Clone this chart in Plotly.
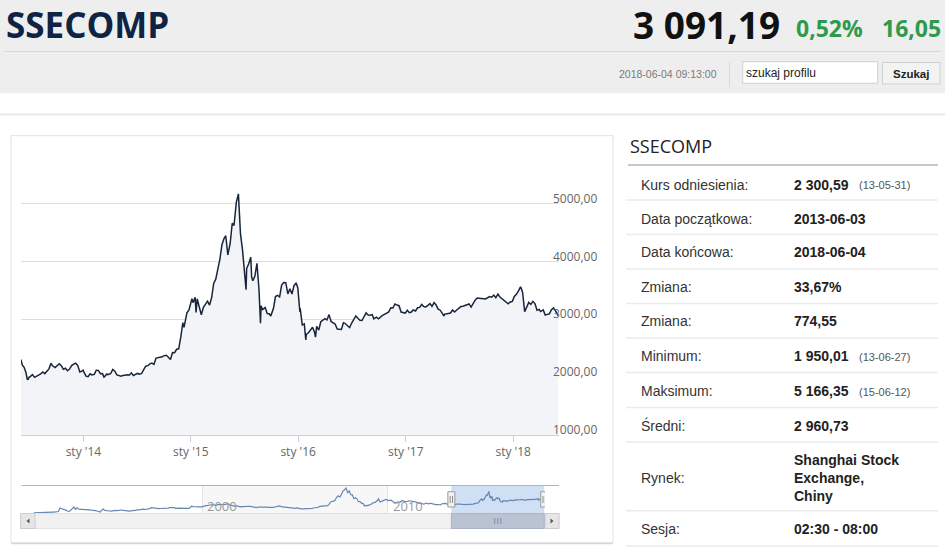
import plotly.graph_objects as go
import pandas as pd

W, H = 945, 549


def fx(x):
    return x / W


def fy(y):
    return 1 - y / H


# ---------------- data ----------------
sse_2013 = [("2013-06-03", 2300), ("2013-06-07", 2210), ("2013-06-14", 2162), ("2013-06-20", 2073),
            ("2013-06-24", 1963), ("2013-06-27", 1950), ("2013-06-28", 1979), ("2013-07-05", 2007),
            ("2013-07-12", 2040), ("2013-07-19", 1992), ("2013-07-26", 2010), ("2013-08-02", 2029),
            ("2013-08-09", 2052), ("2013-08-16", 2085), ("2013-08-23", 2057), ("2013-08-30", 2098),
            ("2013-09-06", 2139), ("2013-09-13", 2236), ("2013-09-18", 2192), ("2013-09-27", 2160),
            ("2013-09-30", 2174), ("2013-10-11", 2228), ("2013-10-18", 2193), ("2013-10-25", 2132),
            ("2013-11-01", 2149), ("2013-11-08", 2106), ("2013-11-15", 2135), ("2013-11-22", 2197),
            ("2013-11-29", 2220), ("2013-12-06", 2237), ("2013-12-13", 2197), ("2013-12-20", 2085),
            ("2013-12-27", 2101), ("2013-12-31", 2116)]
sse_2014 = [("2014-01-03", 2083), ("2014-01-10", 2013), ("2014-01-17", 2004), ("2014-01-24", 2054),
            ("2014-01-30", 2033), ("2014-02-07", 2044), ("2014-02-14", 2115), ("2014-02-21", 2113),
            ("2014-02-28", 2056), ("2014-03-07", 2057), ("2014-03-12", 1997), ("2014-03-14", 2004),
            ("2014-03-21", 2047), ("2014-03-28", 2041), ("2014-04-04", 2058), ("2014-04-11", 2130),
            ("2014-04-18", 2098), ("2014-04-25", 2036), ("2014-04-30", 2027), ("2014-05-09", 2011),
            ("2014-05-16", 2026), ("2014-05-23", 2034), ("2014-05-30", 2039), ("2014-06-06", 2030),
            ("2014-06-13", 2070), ("2014-06-20", 2025), ("2014-06-27", 2036), ("2014-07-04", 2060),
            ("2014-07-11", 2047), ("2014-07-18", 2059), ("2014-07-25", 2126), ("2014-08-01", 2185),
            ("2014-08-08", 2194), ("2014-08-15", 2226), ("2014-08-22", 2240), ("2014-08-29", 2217),
            ("2014-09-05", 2326), ("2014-09-12", 2331), ("2014-09-19", 2329), ("2014-09-26", 2347),
            ("2014-09-30", 2364), ("2014-10-10", 2374), ("2014-10-17", 2341), ("2014-10-24", 2302),
            ("2014-10-31", 2420), ("2014-11-07", 2418), ("2014-11-14", 2478), ("2014-11-21", 2486),
            ("2014-11-28", 2683), ("2014-12-05", 2937), ("2014-12-09", 2856), ("2014-12-12", 2938),
            ("2014-12-19", 3108), ("2014-12-26", 3157), ("2014-12-31", 3234)]
sse_2015 = [("2015-01-05", 3351), ("2015-01-09", 3285), ("2015-01-16", 3376), ("2015-01-19", 3116),
            ("2015-01-23", 3351), ("2015-01-30", 3210), ("2015-02-06", 3075), ("2015-02-13", 3204),
            ("2015-02-27", 3310), ("2015-03-06", 3241), ("2015-03-13", 3372), ("2015-03-20", 3617),
            ("2015-03-27", 3691), ("2015-04-03", 3863), ("2015-04-10", 4034), ("2015-04-17", 4287),
            ("2015-04-24", 4393), ("2015-04-30", 4442), ("2015-05-07", 4112), ("2015-05-15", 4308),
            ("2015-05-22", 4658), ("2015-05-28", 4620), ("2015-06-05", 5023), ("2015-06-12", 5166),
            ("2015-06-19", 4478), ("2015-06-26", 4193), ("2015-07-03", 3687), ("2015-07-08", 3507),
            ("2015-07-10", 3877), ("2015-07-17", 3957), ("2015-07-24", 4070), ("2015-07-27", 3725),
            ("2015-07-31", 3664), ("2015-08-07", 3744), ("2015-08-14", 3965), ("2015-08-18", 3748),
            ("2015-08-21", 3507), ("2015-08-26", 2927), ("2015-08-28", 3232), ("2015-09-02", 3166),
            ("2015-09-11", 3200), ("2015-09-18", 3097), ("2015-09-25", 3092), ("2015-09-30", 3053),
            ("2015-10-09", 3183), ("2015-10-16", 3391), ("2015-10-23", 3412), ("2015-10-30", 3383),
            ("2015-11-06", 3590), ("2015-11-13", 3632), ("2015-11-20", 3631), ("2015-11-27", 3436),
            ("2015-12-04", 3524), ("2015-12-11", 3435), ("2015-12-18", 3578), ("2015-12-25", 3627),
            ("2015-12-31", 3539)]
sse_2016 = [("2016-01-04", 3296), ("2016-01-07", 3125), ("2016-01-08", 3186), ("2016-01-15", 2901),
            ("2016-01-22", 2916), ("2016-01-27", 2638), ("2016-01-29", 2737), ("2016-02-05", 2763),
            ("2016-02-19", 2860), ("2016-02-26", 2767), ("2016-02-29", 2688), ("2016-03-04", 2874),
            ("2016-03-11", 2810), ("2016-03-18", 2955), ("2016-03-25", 2979), ("2016-04-01", 3009),
            ("2016-04-08", 2985), ("2016-04-15", 3078), ("2016-04-22", 2959), ("2016-04-29", 2938),
            ("2016-05-06", 2913), ("2016-05-13", 2827), ("2016-05-20", 2825), ("2016-05-27", 2821),
            ("2016-06-03", 2938), ("2016-06-08", 2927), ("2016-06-17", 2885), ("2016-06-24", 2854),
            ("2016-07-01", 2932), ("2016-07-08", 2988), ("2016-07-15", 3054), ("2016-07-22", 3013),
            ("2016-07-29", 2979), ("2016-08-05", 2976), ("2016-08-12", 3050), ("2016-08-19", 3108),
            ("2016-08-26", 3070), ("2016-09-02", 3067), ("2016-09-09", 3078), ("2016-09-14", 3003),
            ("2016-09-23", 3033), ("2016-09-30", 3005), ("2016-10-14", 3063), ("2016-10-21", 3090),
            ("2016-10-28", 3104), ("2016-11-04", 3125), ("2016-11-11", 3196), ("2016-11-18", 3192),
            ("2016-11-25", 3262), ("2016-12-02", 3243), ("2016-12-09", 3232), ("2016-12-16", 3122),
            ("2016-12-23", 3110), ("2016-12-30", 3104)]
sse_2017 = [("2017-01-06", 3154), ("2017-01-13", 3112), ("2017-01-20", 3123), ("2017-01-26", 3159),
            ("2017-02-03", 3140), ("2017-02-10", 3196), ("2017-02-17", 3202), ("2017-02-24", 3253),
            ("2017-03-03", 3218), ("2017-03-10", 3212), ("2017-03-17", 3237), ("2017-03-24", 3269),
            ("2017-03-31", 3222), ("2017-04-07", 3286), ("2017-04-14", 3246), ("2017-04-21", 3173),
            ("2017-04-28", 3154), ("2017-05-05", 3103), ("2017-05-11", 3053), ("2017-05-12", 3083),
            ("2017-05-19", 3090), ("2017-05-26", 3110), ("2017-06-02", 3105), ("2017-06-09", 3158),
            ("2017-06-16", 3123), ("2017-06-23", 3157), ("2017-06-30", 3192), ("2017-07-07", 3217),
            ("2017-07-14", 3222), ("2017-07-21", 3237), ("2017-07-28", 3253), ("2017-08-04", 3262),
            ("2017-08-11", 3208), ("2017-08-18", 3268), ("2017-08-25", 3331), ("2017-09-01", 3365),
            ("2017-09-08", 3365), ("2017-09-15", 3353), ("2017-09-22", 3352), ("2017-09-29", 3348),
            ("2017-10-13", 3390), ("2017-10-20", 3378), ("2017-10-27", 3416), ("2017-11-03", 3371),
            ("2017-11-10", 3432), ("2017-11-17", 3382), ("2017-11-24", 3353), ("2017-12-01", 3317),
            ("2017-12-08", 3289), ("2017-12-15", 3266), ("2017-12-22", 3297), ("2017-12-29", 3307)]
sse_2018 = [("2018-01-05", 3391), ("2018-01-12", 3429), ("2018-01-19", 3487), ("2018-01-26", 3558),
            ("2018-01-29", 3523), ("2018-02-02", 3462), ("2018-02-09", 3129), ("2018-02-14", 3199),
            ("2018-02-23", 3289), ("2018-03-02", 3254), ("2018-03-09", 3307), ("2018-03-16", 3269),
            ("2018-03-23", 3152), ("2018-03-30", 3168), ("2018-04-04", 3131), ("2018-04-13", 3159),
            ("2018-04-20", 3071), ("2018-04-27", 3082), ("2018-05-04", 3091), ("2018-05-11", 3163),
            ("2018-05-18", 3193), ("2018-05-25", 3141), ("2018-06-01", 3075), ("2018-06-04", 3091)]

# navigator history, monthly values
nav_1990s_start = "1990-12-01"
nav_1990s = [128,
             131, 134, 120, 113, 114, 137, 142, 146, 180, 218, 259, 292,
             313, 365, 443, 446, 1266, 1170, 1040, 820, 720, 500, 450, 780,
             1220, 1500, 930, 1350, 1000, 1000, 900, 880, 920, 900, 980, 833,
             770, 780, 790, 640, 560, 470, 330, 760, 1000, 690, 700, 647,
             560, 550, 640, 580, 700, 630, 710, 720, 790, 720, 640, 555,
             540, 550, 570, 710, 650, 810, 840, 830, 900, 1000, 1000, 917,
             1000, 990, 1130, 1340, 1280, 1200, 1200, 1150, 1100, 1150, 1150, 1194,
             1230, 1210, 1240, 1340, 1410, 1340, 1330, 1140, 1230, 1220, 1250, 1147,
             1130, 1090, 1160, 1160, 1280, 1690, 1600, 1640, 1560, 1510, 1500, 1367]
nav_2000s_start = "2000-01-01"
nav_2000s = [1530, 1710, 1800, 1840, 1890, 1930, 2020, 2020, 1910, 1960, 2070, 2073,
             2000, 1960, 2110, 2120, 2210, 2220, 1920, 1830, 1640, 1690, 1750, 1646,
             1490, 1520, 1600, 1650, 1520, 1730, 1650, 1670, 1580, 1500, 1420, 1358,
             1500, 1510, 1490, 1520, 1580, 1490, 1480, 1420, 1370, 1350, 1400, 1497,
             1590, 1680, 1740, 1600, 1560, 1400, 1390, 1340, 1400, 1320, 1340, 1266,
             1190, 1300, 1180, 1160, 1060, 1080, 1080, 1160, 1150, 1090, 1100, 1161,
             1260, 1300, 1300, 1440, 1640, 1670, 1610, 1660, 1750, 1840, 2100, 2675,
             2790, 2880, 3180, 3840, 4110, 3820, 4470, 5220, 5550, 5950, 4870, 5262,
             4380, 4350, 3470, 3690, 3430, 2740, 2780, 2400, 2290, 1730, 1870, 1821,
             1990, 2080, 2370, 2480, 2630, 2960, 3410, 2670, 2780, 2990, 3200, 3277]
nav_2010s_start = "2010-01-01"
nav_2010s = [2990, 3050, 3110, 2870, 2590, 2400, 2640, 2640, 2660, 2980, 2820, 2808,
             2790, 2900, 2930, 2910, 2740, 2760, 2700, 2570, 2360, 2470, 2330, 2199,
             2290, 2430, 2260, 2400, 2370, 2230, 2100, 2050, 2090, 2070, 1980, 2269,
             2390, 2360, 2240, 2180, 2300]

x_tick_dates = ["2014-01-01", "2015-01-01", "2016-01-01", "2017-01-01", "2018-01-01"]
x_tick_text = ["sty '14", "sty '15", "sty '16", "sty '17", "sty '18"]
y_tick_vals = [1000, 2000, 3000, 4000, 5000, 6000]
y_tick_text = ["1000,00", "2000,00", "3000,00", "4000,00", "5000,00", ""]
nav_tick_dates = ["2000-01-01", "2010-01-01"]
nav_tick_text = ["2000", "2010"]

info_labels = ["Kurs odniesienia:", "Data początkowa:", "Data końcowa:", "Zmiana:", "Zmiana:",
               "Minimum:", "Maksimum:", "Średni:", "Rynek:", "Sesja:"]
info_values = ["2 300,59", "2013-06-03", "2018-06-04", "33,67%", "774,55",
               "1 950,01", "5 166,35", "2 960,73", "Shanghai Stock<br>Exchange,<br>Chiny", "02:30 - 08:00"]
info_notes = ["(13-05-31)", "", "", "", "", "(13-06-27)", "(15-06-12)", "", "", ""]

ticker = "SSECOMP"
last_price = "3 091,19"
change_pct = "0,52%"
change_abs = "16,05"
timestamp = "2018-06-04 09:13:00"

# ---------------- assemble ----------------
main = sse_2013 + sse_2014 + sse_2015 + sse_2016 + sse_2017 + sse_2018
main_x = [pd.Timestamp(d) for d, _ in main]
main_y = [v for _, v in main]

nav_x, nav_y = [], []
for start, vals in ((nav_1990s_start, nav_1990s), (nav_2000s_start, nav_2000s), (nav_2010s_start, nav_2010s)):
    nav_x += list(pd.date_range(start, periods=len(vals), freq="MS"))
    nav_y += vals
nav_x += main_x
nav_y += main_y

first_day, last_day = main_x[0], main_x[-1]
mid_day = first_day + (last_day - first_day) / 2

fig = go.Figure()
fig.add_trace(go.Scatter(x=main_x, y=main_y, mode="lines", line=dict(color="#18253a", width=1.5),
                         fill="tozeroy", fillcolor="#f2f4f8", hoverinfo="skip", xaxis="x", yaxis="y"))
fig.add_trace(go.Scatter(x=nav_x, y=nav_y, mode="lines", line=dict(color="#6787b0", width=1.2),
                         hoverinfo="skip", xaxis="x2", yaxis="y2"))

LINE_BLUE = "#c0d0e0"
fig.update_layout(
    autosize=True, margin=dict(l=0, r=0, t=0, b=0, autoexpand=False),
    paper_bgcolor="white", plot_bgcolor="rgba(0,0,0,0)", showlegend=False,
    xaxis=dict(domain=[fx(21), fx(558.5)], range=[first_day, last_day], anchor="y",
               tickvals=x_tick_dates, ticktext=x_tick_text, ticks="outside", ticklen=6,
               tickcolor=LINE_BLUE, showline=True, linecolor=LINE_BLUE, linewidth=1,
               showgrid=False, zeroline=False,
               tickfont=dict(family="Open Sans", size=12, color="#666666"), fixedrange=True),
    yaxis=dict(domain=[fy(434.7), fy(145.7)], range=[1000, 6000], anchor="free",
               position=fx(552), side="right", tickvals=y_tick_vals, ticktext=y_tick_text,
               ticks="", showline=False, showgrid=True, gridcolor="#dedede", gridwidth=1,
               zeroline=False, ticklabelshift=-5,
               tickfont=dict(family="Open Sans", size=12, color="#666666"), fixedrange=True),
    xaxis2=dict(domain=[fx(21.7), fx(545)], range=["1990-04-09", "2018-06-20"], anchor="y2",
                tickvals=nav_tick_dates, showticklabels=False, ticks="",
                showline=False, showgrid=True, gridcolor="#e4e4e4", zeroline=False, fixedrange=True),
    yaxis2=dict(domain=[fy(513), fy(486)], range=[90, 6430], anchor="x2", visible=False,
                fixedrange=True),
)

shapes = []


def rect(x0, y0, x1, y1, fill=None, line=None, lw=1, layer="below"):
    shapes.append(dict(type="rect", xref="paper", yref="paper", x0=fx(x0), x1=fx(x1), y0=fy(y0), y1=fy(y1),
                       fillcolor=fill if fill else "rgba(0,0,0,0)",
                       line=dict(color=line if line else "rgba(0,0,0,0)", width=lw if line else 0),
                       layer=layer))


def hline(x0, x1, y, color, lw=1, layer="below"):
    shapes.append(dict(type="line", xref="paper", yref="paper", x0=fx(x0), x1=fx(x1), y0=fy(y), y1=fy(y),
                       line=dict(color=color, width=lw), layer=layer))


def vline(x, y0, y1, color, lw=1, layer="below"):
    shapes.append(dict(type="line", xref="paper", yref="paper", x0=fx(x), x1=fx(x), y0=fy(y0), y1=fy(y1),
                       line=dict(color=color, width=lw), layer=layer))


# header band
rect(0, 0, 945, 93.3, fill="#eeeeee")
hline(5, 941, 51.7, "#d8d8d8", 1.5)
hline(5, 941, 53, "#f8f8f8", 1)
hline(0, 945, 114.5, "#e8e8e8", 2)
vline(729.5, 62, 87, "#d9d9d9")
rect(742.7, 61.7, 877.7, 83.3, fill="white", line="#cfcfcf")
rect(882.5, 62.5, 940, 84, fill="#f3f3f3", line="#d0d0d0")

# chart box
rect(11, 135.7, 613, 542.7, line="#e3e3e3")
hline(11, 613, 543.5, "#d8d8d8", 1.5)

# navigator decorations
shapes.append(dict(type="rect", xref="x2", yref="paper", x0="2000-01-01", x1="2010-01-01",
                   y0=fy(513), y1=fy(486), fillcolor="#f7f7f7", line=dict(width=0), layer="below"))
shapes.append(dict(type="rect", xref="x2", yref="paper", x0=first_day, x1=last_day,
                   y0=fy(513), y1=fy(486), fillcolor="#cfe0f5", line=dict(width=0), layer="below"))
hline(21.7, 559, 485.5, "#b4b4b4", 1)
# scrollbar
rect(20.7, 513.5, 559, 528.5, fill="#f1f1f1", line="#e2e2e2")
rect(20.7, 513.5, 35, 528.5, fill="#e6e6e6", line="#cccccc")
rect(545, 513.5, 559, 528.5, fill="#e6e6e6", line="#cccccc")
shapes.append(dict(type="path", xref="paper", yref="paper",
                   path=f"M {fx(29.5)} {fy(518.5)} L {fx(29.5)} {fy(523.5)} L {fx(26.5)} {fy(521)} Z",
                   fillcolor="#555555", line=dict(width=0)))
shapes.append(dict(type="path", xref="paper", yref="paper",
                   path=f"M {fx(550.5)} {fy(518.5)} L {fx(550.5)} {fy(523.5)} L {fx(553.5)} {fy(521)} Z",
                   fillcolor="#555555", line=dict(width=0)))
shapes.append(dict(type="rect", xref="x2", yref="paper", x0=first_day, x1=last_day,
                   y0=fy(528.5), y1=fy(513.5), fillcolor="#b9c3d2", line=dict(color="#aab4c4", width=1)))
for dx in (-3, 0, 3):
    shapes.append(dict(type="line", xref="x2", yref="paper", xsizemode="pixel", xanchor=mid_day,
                       x0=dx, x1=dx, y0=fy(518), y1=fy(524), line=dict(color="#7f8ea5", width=1)))
# handles
for anchor in (first_day, last_day):
    shapes.append(dict(type="rect", xref="x2", yref="paper", xsizemode="pixel", xanchor=anchor,
                       x0=-3.5, x1=3.5, y0=fy(507), y1=fy(491.7), fillcolor="#f2f2f2",
                       line=dict(color="#9a9a9a", width=1)))
    for dx in (-1.2, 1.2):
        shapes.append(dict(type="line", xref="x2", yref="paper", xsizemode="pixel", xanchor=anchor,
                           x0=dx, x1=dx, y0=fy(503), y1=fy(496), line=dict(color="#8a8a8a", width=1)))

# info panel lines
hline(628, 938, 165, "#8f8f8f", 1)
row_sep = [200, 234.5, 269, 303.5, 338, 372.5, 407.5, 442, 510.7, 546]
for y in row_sep:
    hline(626, 938, y, "#ebebeb", 1.5)

fig.update_layout(shapes=shapes)

ann = []


def text(x, y, s, size, color="#333333", family="Liberation Sans", xanchor="left", bold=False):
    ann.append(dict(xref="paper", yref="paper", x=fx(x), y=fy(y), text=f"<b>{s}</b>" if bold else s,
                    showarrow=False, xanchor=xanchor, yanchor="middle", align="left",
                    font=dict(family=family, size=size, color=color), borderpad=0))


# navigator year labels (at the navigator's own x axis positions)
for d, t in zip(nav_tick_dates, nav_tick_text):
    ann.append(dict(xref="x2", yref="paper", x=d, y=fy(506), xshift=4, text=t, showarrow=False,
                    xanchor="left", yanchor="middle", borderpad=0,
                    font=dict(family="Open Sans", size=13, color="#9a9a9a")))

text(5, 24, ticker, 35, color="#0f2444", family="Open Sans", bold=True)
text(781, 24, last_price, 37, color="#111111", family="Open Sans", xanchor="right", bold=True)
text(795, 28, change_pct, 23, color="#2e9a4b", family="Open Sans", bold=True)
text(942, 28, change_abs, 23, color="#2e9a4b", family="Open Sans", xanchor="right", bold=True)
text(718, 74, timestamp, 10.5, color="#7a7a7a", xanchor="right")
text(745, 72.7, "szukaj profilu", 12, color="#222222")
text(911, 73.5, "Szukaj", 11.5, color="#222222", xanchor="center", bold=True)

text(629, 146, ticker, 18, color="#222222", family="Open Sans")
row_y = [184.5, 218.5, 252, 286.5, 321, 356, 391, 425.5, 478, 529]
for y, lab, val, note in zip(row_y, info_labels, info_values, info_notes):
    text(640, y, lab, 14, color="#333333")
    text(793, y, val, 14, color="#222222", bold=True)
    if note:
        text(858, y + 1, note, 11, color="#555555")

fig.update_layout(annotations=ann)

# the figure div is pinned to the page's top-left corner so that the page is exactly 945x549
fig.write_html("out.html", config={"displayModeBar": False, "responsive": True},
               default_width=f"{W}px",
               default_height=f"{H}px; position:absolute; top:0px; left:0px",
               post_script="document.body.style.margin='0';document.body.style.overflow='hidden';")
